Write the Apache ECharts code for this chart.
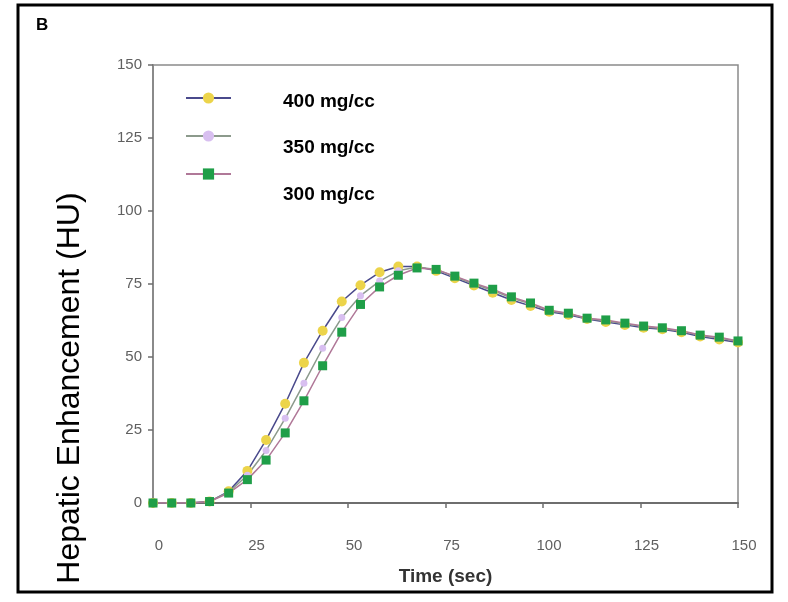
<!DOCTYPE html>
<html>
<head>
<meta charset="utf-8">
<script src="https://cdn.jsdelivr.net/npm/echarts@6/dist/echarts.min.js"></script>
<style>
html,body{margin:0;padding:0;background:#fff;}
#chart{width:788px;height:602px;}
</style>
</head>
<body>
<div id="chart"></div>
<script>
// ---- data ----
var times = [0, 4.8, 9.7, 14.5, 19.4, 24.2, 29, 33.9, 38.7, 43.5, 48.4, 53.2, 58.1, 62.9, 67.7, 72.6,
             77.4, 82.3, 87.1, 91.9, 96.8, 101.6, 106.5, 111.3, 116.1, 121, 125.8, 130.6, 135.5, 140.3, 145.2, 150];
var v400 = [0, 0, 0, 0.5, 4, 11, 21.6, 34, 48, 59, 69, 74.6, 79, 81, 81, 79.5,
            77, 74.5, 72, 69.5, 67.5, 65.5, 64.5, 63, 62, 61, 60, 59.5, 58.5, 57, 56, 55];
var v350 = [0, 0, 0, 0.5, 3.7, 9.5, 18, 29, 41, 53, 63.5, 71, 76, 79.5, 80.8, 80,
            77.5, 75, 72.8, 70.2, 68.2, 65.8, 64.8, 63.2, 62.4, 61.4, 60.4, 59.8, 58.8, 57.4, 56.5, 55.3];
var v300 = [0, 0, 0, 0.5, 3.4, 8, 14.7, 24, 35, 47, 58.5, 68, 74, 78, 80.5, 80,
            77.7, 75.3, 73.2, 70.6, 68.5, 66, 65, 63.3, 62.7, 61.6, 60.6, 60, 59, 57.5, 56.8, 55.5];
var seriesNames = ['400 mg/cc', '350 mg/cc', '300 mg/cc'];
var xTitle = 'Time (sec)';
var yTitle = 'Hepatic Enhancement (HU)';
var panelLabel = 'B';

function pairs(xs, ys) { return xs.map(function (x, i) { return [x, ys[i]]; }); }

var chart = echarts.init(document.getElementById('chart'), null, {renderer: 'canvas'});

var FONT = '"Liberation Sans", Arial, sans-serif';
var legendBase = {
  orient: 'vertical', left: 185, padding: 0, itemWidth: 45, itemHeight: 14,
  selectedMode: false, formatter: function () { return ''; }
};
function legendFor(name, top) {
  return Object.assign({}, legendBase, {top: top, data: [name]});
}
// legend labels placed separately (the reference offsets them from the icons)
var labelYs = [102, 148, 195];
var legendLabels = seriesNames.map(function (n, i) {
  return {type: 'text', x: 283, y: labelYs[i],
          style: {text: n, font: 'bold 19px ' + FONT, fill: '#000', align: 'left', verticalAlign: 'middle'}};
});

var option = {
  animation: false,
  backgroundColor: '#fff',
  grid: {left: 153, right: 50, top: 65, bottom: 99, show: true, borderColor: '#8a8a8a', borderWidth: 1.5},
  legend: [
    legendFor(seriesNames[0], 91),
    legendFor(seriesNames[1], 129),
    legendFor(seriesNames[2], 167)
  ],
  xAxis: {
    type: 'value', min: 0, max: 150, interval: 25,
    name: xTitle, nameLocation: 'middle', nameGap: 64,
    nameTextStyle: {fontFamily: FONT, fontWeight: 'bold', fontSize: 19, color: '#333'},
    axisLine: {lineStyle: {color: '#6e6e6e', width: 2}},
    axisTick: {show: true, inside: false, length: 5, lineStyle: {color: '#6e6e6e', width: 1.5}},
    axisLabel: {margin: 35, color: '#606060', fontSize: 15, fontFamily: FONT, padding: [0, 0, 0, 12]},
    splitLine: {show: false}
  },
  yAxis: {
    type: 'value', min: 0, max: 150, interval: 25,
    axisLine: {show: true, lineStyle: {color: '#8a8a8a', width: 2}},
    axisTick: {show: true, inside: false, length: 5, lineStyle: {color: '#6e6e6e', width: 1.5}},
    axisLabel: {margin: 11, color: '#606060', fontSize: 15, fontFamily: FONT},
    splitLine: {show: false}
  },
  series: [
    {
      name: seriesNames[0], type: 'line', data: pairs(times, v400),
      symbol: 'circle', symbolSize: 10,
      itemStyle: {color: '#ecd44a'},
      lineStyle: {color: '#4a4a8c', width: 1.5}
    },
    {
      name: seriesNames[1], type: 'line', data: pairs(times, v350),
      symbol: 'circle', symbolSize: 7,
      itemStyle: {color: '#d8bff0'},
      lineStyle: {color: '#8c9a8c', width: 1.5}
    },
    {
      name: seriesNames[2], type: 'line', data: pairs(times, v300),
      symbol: 'rect', symbolSize: 9,
      itemStyle: {color: '#1f9e48'},
      lineStyle: {color: '#b07898', width: 1.5}
    }
  ],
  graphic: [
    {type: 'rect', shape: {x: 18, y: 5, width: 754, height: 587},
     style: {fill: null, stroke: '#000', lineWidth: 3}, silent: true},
    {type: 'text', left: 36, top: 17,
     style: {text: panelLabel, font: 'bold 17px ' + FONT, fill: '#000'}},
    {type: 'text', x: 70, y: 388, rotation: Math.PI / 2,
     style: {text: yTitle, font: '32px ' + FONT, fill: '#000', align: 'center', verticalAlign: 'middle'}}
  ].concat(legendLabels)
};
chart.setOption(option);
</script>
</body>
</html>
